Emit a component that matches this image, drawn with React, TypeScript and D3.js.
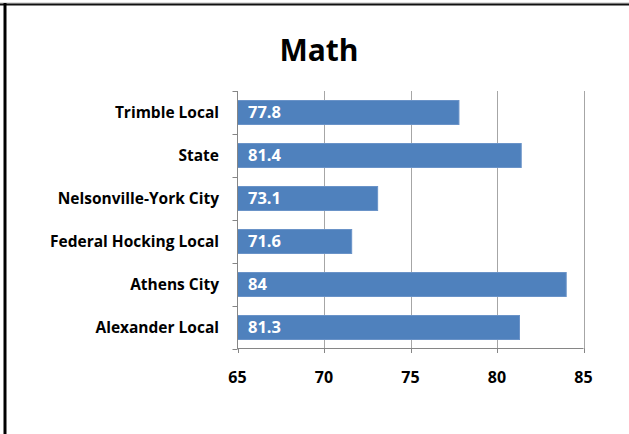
import React, { useEffect, useRef } from 'react';
import * as d3 from 'd3';

const categories = ['Trimble Local', 'State', 'Nelsonville-York City', 'Federal Hocking Local', 'Athens City', 'Alexander Local'];
const values = [77.8, 81.4, 73.1, 71.6, 84, 81.3];
const valueLabels = ['77.8', '81.4', '73.1', '71.6', '84', '81.3'];
const xTicks = [65, 70, 75, 80, 85];
const xDomain = [65, 85];
const title = 'Math';

const W = 629;
const H = 434;
const FONT = '"Open Sans", Lato, sans-serif';

const App: React.FC = () => {
  const svgRef = useRef<SVGSVGElement>(null);

  useEffect(() => {
    if (!svgRef.current) return;
    const svg = d3.select(svgRef.current);
    svg.selectAll('*').remove();

    const left = 237.5, right = 583.5, top = 91, bottom = 349;

    const x = d3.scaleLinear().domain(xDomain).range([left, right]);
    const y = d3.scaleBand<string>()
      .domain(categories)
      .range([top, bottom])
      .paddingInner(0.442)
      .paddingOuter(0.221);

    svg.append('rect').attr('width', W).attr('height', H).attr('fill', '#fff');

    // frame (top + left only, like the cropped screenshot)
    svg.append('line').attr('x1', 0).attr('x2', W).attr('y1', 3).attr('y2', 3).attr('stroke', '#bdbdbd').attr('stroke-width', 1);
    svg.append('line').attr('x1', 0).attr('x2', W).attr('y1', 4.5).attr('y2', 4.5).attr('stroke', '#111').attr('stroke-width', 2);
    svg.append('line').attr('x1', 5).attr('x2', 5).attr('y1', 3).attr('y2', H).attr('stroke', '#000').attr('stroke-width', 3);

    // title
    svg.append('text')
      .attr('x', 319).attr('y', 61)
      .attr('text-anchor', 'middle')
      .attr('font-family', FONT).attr('font-weight', 'bold').attr('font-size', 30)
      .attr('fill', '#000')
      .text(title);

    // gridlines
    xTicks.slice(1).forEach(t => {
      svg.append('line')
        .attr('x1', Math.round(x(t)) + 0.5).attr('x2', Math.round(x(t)) + 0.5)
        .attr('y1', top).attr('y2', bottom)
        .attr('stroke', '#a6a6a6').attr('stroke-width', 1);
    });

    // bars
    categories.forEach((c, i) => {
      const by = y(c)!;
      svg.append('rect')
        .attr('x', x(xDomain[0]))
        .attr('y', by)
        .attr('width', x(values[i]) - x(xDomain[0]))
        .attr('height', y.bandwidth())
        .attr('fill', '#4f81bd')
        .attr('stroke', '#6a93c8')
        .attr('stroke-width', 1);

      svg.append('text')
        .attr('x', 248)
        .attr('y', by + y.bandwidth() / 2)
        .attr('dy', '0.36em')
        .attr('font-family', FONT).attr('font-weight', 'bold').attr('font-size', 16.5)
        .attr('fill', '#fff')
        .text(valueLabels[i]);

      svg.append('text')
        .attr('x', 219)
        .attr('y', by + y.bandwidth() / 2)
        .attr('dy', '0.36em')
        .attr('text-anchor', 'end')
        .attr('font-family', FONT).attr('font-weight', 'bold').attr('font-size', 15.5)
        .attr('fill', '#000')
        .text(c);
    });

    // y axis line + boundary ticks
    svg.append('line')
      .attr('x1', left).attr('x2', left).attr('y1', top).attr('y2', bottom)
      .attr('stroke', '#868686').attr('stroke-width', 1);
    const step = y.step();
    for (let i = 0; i <= categories.length; i++) {
      const ty = Math.round(top + i * step) + 0.5;
      svg.append('line')
        .attr('x1', left - 5).attr('x2', left).attr('y1', ty).attr('y2', ty)
        .attr('stroke', '#868686').attr('stroke-width', 1);
    }

    // x axis
    svg.append('line')
      .attr('x1', left).attr('x2', right).attr('y1', bottom - 0.5).attr('y2', bottom - 0.5)
      .attr('stroke', '#868686').attr('stroke-width', 1);
    xTicks.forEach(t => {
      const tx = Math.round(x(t)) + 0.5;
      svg.append('line')
        .attr('x1', tx).attr('x2', tx).attr('y1', bottom - 0.5).attr('y2', bottom + 4)
        .attr('stroke', '#868686').attr('stroke-width', 1);
      svg.append('text')
        .attr('x', x(t)).attr('y', 377)
        .attr('dy', '0.36em')
        .attr('text-anchor', 'middle')
        .attr('font-family', FONT).attr('font-weight', 'bold').attr('font-size', 16)
        .attr('fill', '#000')
        .text(String(t));
    });
  }, []);

  return (
    <svg
      ref={svgRef}
      width={W}
      height={H}
      style={{ position: 'fixed', left: 0, top: 0, display: 'block' }}
    />
  );
};

export default App;
